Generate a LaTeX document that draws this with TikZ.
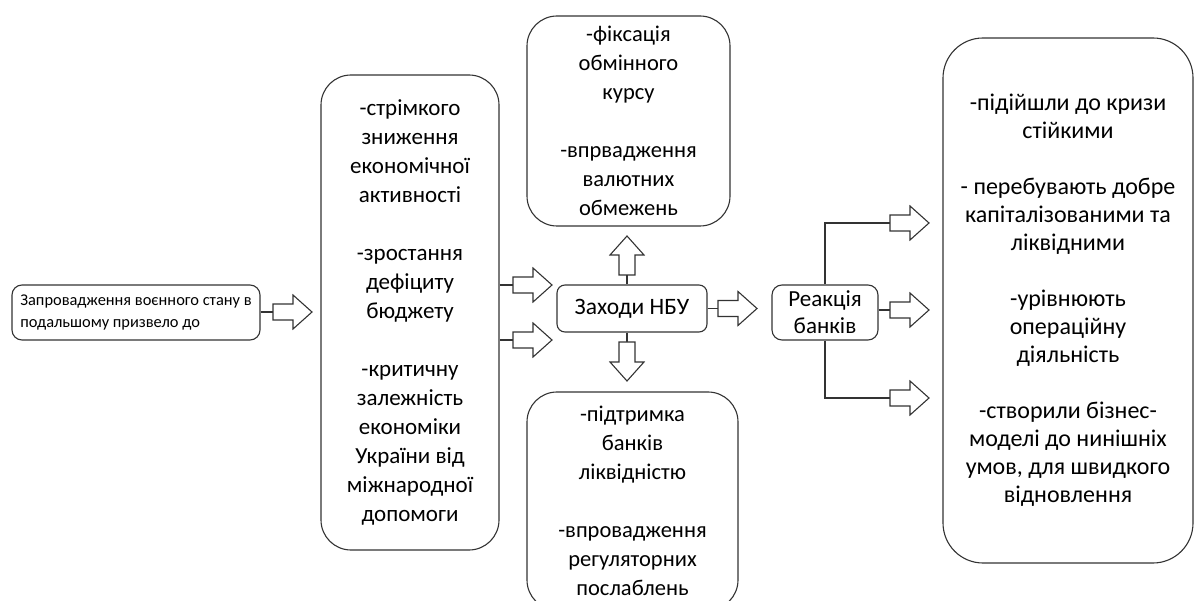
\documentclass[tikz,border=0pt]{standalone}
\usepackage{fontspec}
\setmainfont{Carlito}
\tikzset{
  box/.style={draw=black!80, line width=1.1pt, rounded corners=#1, align=center, inner sep=0pt, text=black},
  box/.default=10pt,
  big/.style={font=\fontsize{23}{29}\selectfont},
  mid/.style={font=\fontsize{22.5}{29}\selectfont},
  link/.style={draw=black!80, line width=1.1pt},
  arr/.style={draw=black!80, line width=1.1pt, fill=white, line join=miter},
  barrow/.pic={\draw[arr] (0,-8) -- (20,-8) -- (20,-17) -- (39,0) -- (20,17) -- (20,8) -- (0,8) -- cycle;}
}
\begin{document}
\begin{tikzpicture}[x=1pt,y=-1pt]
\useasboundingbox (0,0) rectangle (1194,601);
% boxes
\node[box=10pt, minimum width=248pt, minimum height=55pt, font=\fontsize{16.4}{22}\selectfont, align=left] (start) at (136,312.5) {Запровадження воєнного стану в\\подальшому призвело до};
\node[box=30pt, minimum width=178pt, minimum height=475pt, big] (causes) at (410,312.5) {-стрімкого\\зниження\\економічної\\активності\\[29pt]-зростання\\дефіциту\\бюджету\\[29pt]-критичну\\залежність\\економіки\\України від\\міжнародної\\допомоги};
\node[box=30pt, minimum width=203pt, minimum height=210pt, mid] (top) at (628.5,121) {-фіксація\\обмінного\\курсу\\[29pt]-впрвадження\\валютних\\обмежень};
\node[box=30pt, minimum width=211pt, minimum height=218pt, mid] (bottom) at (632.5,501) {-підтримка\\банків\\ліквідністю\\[29pt]-впровадження\\регуляторних\\послаблень};
\node[box=8pt, minimum width=150pt, minimum height=47pt, font=\fontsize{23.5}{29}\selectfont] (nbu) at (632,308.5) {Заходи НБУ};
\node[box=10pt, minimum width=106pt, minimum height=55pt, font=\fontsize{23}{27}\selectfont] (reac) at (825,312.5) {Реакція\\банків};
\node[box=40pt, minimum width=250pt, minimum height=525pt, font=\fontsize{24}{28}\selectfont] (result) at (1068,300.5) {-підійшли до кризи\\стійкими\\[28pt]- перебувають добре\\капіталізованими та\\ліквідними\\[28pt]-урівнюють\\операційну\\діяльність\\[28pt]-створили бізнес-\\моделі до нинішніх\\умов, для швидкого\\відновлення};
% arrow tails
\coordinate (a1) at (273,312);
\coordinate (a2) at (513,285);
\coordinate (a3) at (513,340);
\coordinate (a4) at (627,275);
\coordinate (a5) at (627,342);
\coordinate (a6) at (718,308.5);
\coordinate (r1) at (890,223);
\coordinate (r2) at (890,310);
\coordinate (r3) at (890,398);
% connectors
\draw[link] (start.east |- a1) -- (a1);
\draw[link] (causes.east |- a2) -- (a2);
\draw[link] (causes.east |- a3) -- (a3);
\draw[link] (nbu.north -| a4) -- (a4);
\draw[link] (nbu.south -| a5) -- (a5);
\draw[link] (nbu.east) -- (a6);
\draw[link] (reac.north) |- (r1);
\draw[link] (reac.east |- r2) -- (r2);
\draw[link] (reac.south) |- (r3);
% block arrows
\pic at (a1) {barrow};
\pic at (a2) {barrow};
\pic at (a3) {barrow};
\pic[rotate=90] at (a4) {barrow};
\pic[rotate=-90] at (a5) {barrow};
\pic at (a6) {barrow};
\pic at (r1) {barrow};
\pic at (r2) {barrow};
\pic at (r3) {barrow};
\end{tikzpicture}
\end{document}
